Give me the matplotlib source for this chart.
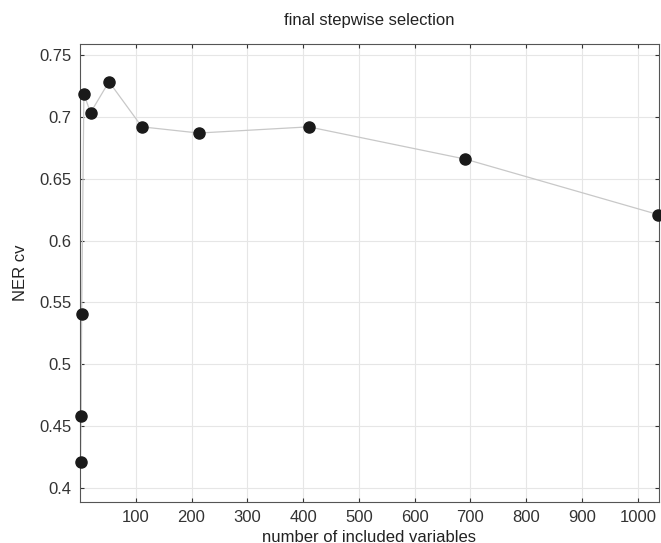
import matplotlib
matplotlib.use("Agg")
import matplotlib.pyplot as plt

# numero de variables incluidas y NER cv
n_vars = [1, 2, 3, 7, 19, 52, 111, 213, 410, 690, 1037]
ner_cv = [0.421, 0.458, 0.541, 0.7185, 0.7035, 0.7285, 0.692, 0.687, 0.692, 0.666, 0.621]

xticks = [100, 200, 300, 400, 500, 600, 700, 800, 900, 1000]
yticks = [0.4, 0.45, 0.5, 0.55, 0.6, 0.65, 0.7, 0.75]

plt.rcParams['font.family'] = ['Liberation Sans', 'DejaVu Sans']

fig = plt.figure(figsize=(6.61, 5.43), dpi=100)
ax = fig.add_axes([0.121, 0.0755, 0.876, 0.8435])

ax.plot(n_vars, ner_cv, color='#c8c8c8', lw=0.9, zorder=2)
ax.plot(n_vars, ner_cv, 'o', color='#1a1a1a', ms=8, zorder=3, clip_on=False)

ax.set_xlim(0, 1038)
ax.set_ylim(0.3887, 0.759)
ax.set_xticks(xticks)
ax.set_yticks(yticks)
ax.set_yticklabels([f"{v:g}" for v in yticks])
ax.grid(True, color='#e6e6e6', lw=0.8)
ax.set_axisbelow(True)

ax.tick_params(direction='in', length=3, width=0.8, colors='#333333',
               labelsize=12, top=True, right=True, pad=6)
for s in ax.spines.values():
    s.set_color('#555555')
    s.set_linewidth(0.8)

ax.set_xlabel("number of included variables", fontsize=12, color='#222222', labelpad=3)
ax.set_ylabel("NER cv", fontsize=12, color='#222222', labelpad=8)
ax.set_title("final stepwise selection", fontsize=12, color='#222222', pad=14)

fig.savefig("out.png", dpi=100)
